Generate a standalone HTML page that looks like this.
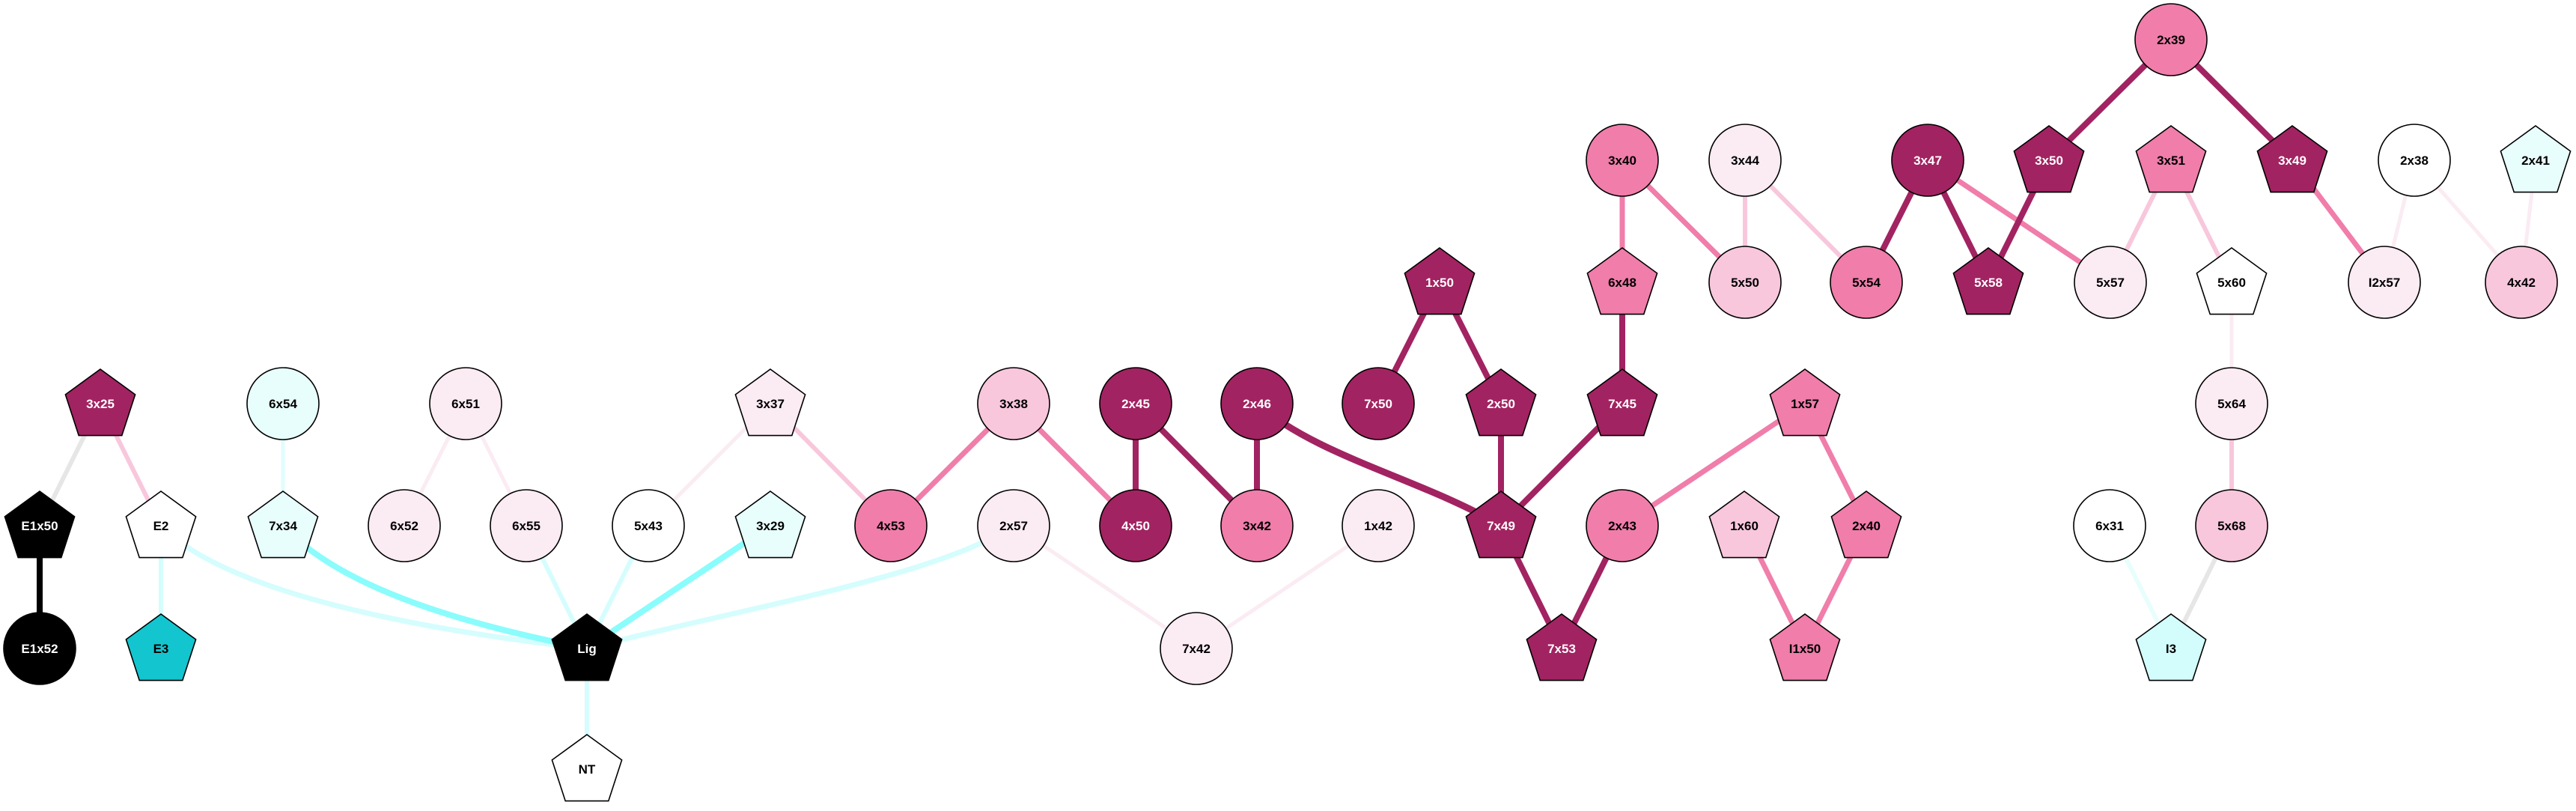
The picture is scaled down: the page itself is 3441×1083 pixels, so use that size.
<!DOCTYPE html>
<html><head><meta charset="utf-8"><style>html,body{margin:0;padding:0;background:#fff}svg{display:block}</style></head>
<body>
<svg xmlns="http://www.w3.org/2000/svg" width="3441" height="1083" viewBox="0 0 3441 1083">
<g fill="none" stroke-linecap="butt" id="edges"></g>
<g id="nodes" font-family="Liberation Sans, Arial, sans-serif" font-weight="bold" font-size="17" text-anchor="middle"></g>
<script>
const R=[53,214,377,539,702,866,1027];
const D='#a22361',M='#f07daa',L='#f8c7dc',VL='#fbebf3',W='#ffffff',C='#e8fefd',K='#000000';
const N={
'3x25':[134,3,'p',D],'E1x50':[53,4,'p',K],'E2':[215,4,'p',W],'E1x52':[53,5,'c',K],'E3':[215,5,'p','#13c5cf'],
'6x54':[378,3,'c',C],'7x34':[378,4,'p',C],'6x51':[622,3,'c',VL],'6x52':[540,4,'c',VL],'6x55':[703,4,'c',VL],
'5x43':[866,4,'c',W],'3x29':[1029,4,'p',C],'3x37':[1029,3,'p',VL],'Lig':[784,5,'p',K],'NT':[784,6,'p',W],
'3x38':[1354,3,'c',L],'4x53':[1190,4,'c',M],'2x57':[1354,4,'c',VL],'2x45':[1517,3,'c',D],'4x50':[1517,4,'c',D],
'2x46':[1679,3,'c',D],'3x42':[1679,4,'c',M],'7x50':[1841,3,'c',D],'1x42':[1841,4,'c',VL],'7x42':[1598,5,'c',VL],
'1x50':[1923,2,'p',D],'2x50':[2005,3,'p',D],'7x49':[2005,4,'p',D],'7x53':[2086,5,'p',D],'6x48':[2167,2,'p',M],
'7x45':[2167,3,'p',D],'2x43':[2167,4,'c',M],'3x40':[2167,1,'c',M],'3x44':[2331,1,'c',VL],'5x50':[2331,2,'c',L],
'3x47':[2575,1,'c',D],'5x54':[2493,2,'c',M],'5x58':[2656,2,'p',D],'3x50':[2737,1,'p',D],'5x57':[2819,2,'c',VL],
'2x39':[2900,0,'c',M],'3x51':[2900,1,'p',M],'5x60':[2981,2,'p',W],'3x49':[3062,1,'p',D],'2x38':[3225,1,'c',W],
'2x41':[3387,1,'p',C],'I2x57':[3185,2,'c',VL],'4x42':[3368,2,'c',L],'1x57':[2411,3,'p',M],'1x60':[2330,4,'p',L],
'2x40':[2493,4,'p',M],'I1x50':[2411,5,'p',M],'5x64':[2981,3,'c',VL],'6x31':[2818,4,'c',W],'5x68':[2981,4,'c',L],
'I3':[2900,5,'p','#d3fdfd']};
const G='#e6e6e6',LC='#d5fdfd',CY='#8bfcfc';
const E=[['3x25','E1x50',G,6],['3x25','E2',L,6],['E1x50','E1x52',K,8],['E2','E3',LC,6],['6x54','7x34','#e0fdfd',5],
['6x51','6x52',VL,5],['6x51','6x55',VL,5],['3x37','5x43',VL,5],['3x37','4x53',L,6],
['Lig','6x55',LC,6],['Lig','5x43',LC,6],['Lig','3x29',CY,8],['Lig','NT',LC,6],
['3x38','4x53',M,7],['3x38','4x50',M,7],['2x45','4x50',D,8],['2x45','3x42',D,8],['2x46','3x42',D,8],
['2x57','7x42',VL,5],['1x42','7x42',VL,5],['1x50','7x50',D,8],['1x50','2x50',D,8],['2x50','7x49',D,8],
['7x45','7x49',D,8],['7x49','7x53',D,8],['2x43','7x53',D,8],['6x48','7x45',D,8],['3x40','6x48',M,7],['3x40','5x50',M,7],
['3x44','5x50',L,6],['3x44','5x54',L,6],['3x47','5x54',D,8],['3x47','5x58',D,8],['3x47','5x57',M,7],['3x50','5x58',D,8],
['2x39','3x50',D,8],['2x39','3x49',D,8],['3x51','5x57',L,6],['3x51','5x60',L,6],['3x49','I2x57',M,7],
['2x38','I2x57',VL,5],['2x38','4x42',VL,5],['2x41','4x42',VL,5],['1x57','2x43',M,7],['1x57','2x40',M,7],
['1x60','I1x50',M,7],['2x40','I1x50',M,7],['5x60','5x64',VL,5],['5x64','5x68',L,6],['6x31','I3',C,6],['5x68','I3',G,6]];
const ns='http://www.w3.org/2000/svg';
const eg=document.getElementById('edges'),ng=document.getElementById('nodes');
function el(t,a,p){const e=document.createElementNS(ns,t);for(const k in a)e.setAttribute(k,a[k]);p.appendChild(e);return e;}
el('path',{d:'M215,702 C300,790 550,840 784,866',stroke:LC,'stroke-width':7},eg);
el('path',{d:'M784,866 C1000,810 1250,770 1354,702',stroke:LC,'stroke-width':7},eg);
el('path',{d:'M378,702 C450,780 600,830 784,866',stroke:CY,'stroke-width':8},eg);
el('path',{d:'M1679,539 C1760,610 1900,640 2005,702',stroke:D,'stroke-width':9},eg);
for(const [a,b,c,w] of E){const A=N[a],B=N[b];el('line',{x1:A[0],y1:R[A[1]],x2:B[0],y2:R[B[1]],stroke:c,'stroke-width':w},eg);}
for(const k in N){const [x,r,s,f]=N[k];const y=R[r];
 if(s==='c')el('circle',{cx:x,cy:y,r:48,fill:f,stroke:'#000','stroke-width':1.6},ng);
 else{let pts=[];for(let i=0;i<5;i++){const a=-Math.PI/2+i*2*Math.PI/5;pts.push((x+49*Math.cos(a)).toFixed(1)+','+(y+3+49*Math.sin(a)).toFixed(1));}
  el('polygon',{points:pts.join(' '),fill:f,stroke:'#000','stroke-width':1.6},ng);}
 const dark=(f===D||f===K);
 const t=el('text',{x:x,y:y+6,fill:dark?'#fff':'#000'},ng);t.textContent=k;}
</script>
</svg>
</body></html>
